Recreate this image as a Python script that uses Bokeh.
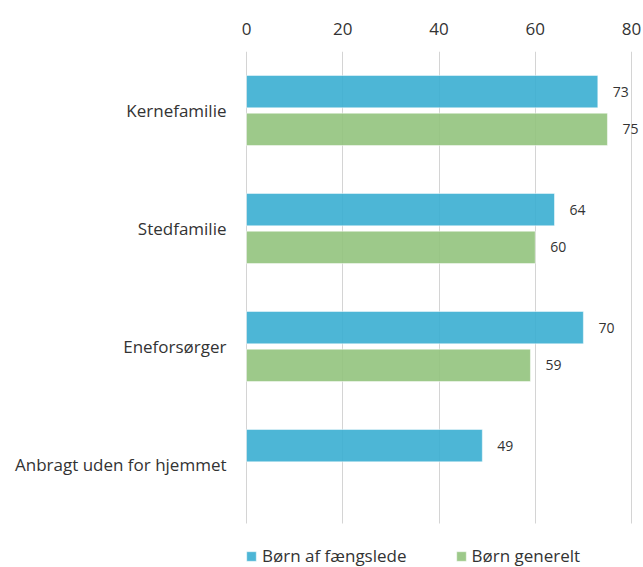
from bokeh.plotting import figure
from bokeh.models import Range1d, FixedTicker, Legend, LegendItem, ColumnDataSource
from bokeh.transform import dodge
from bokeh.core.properties import value
from bokeh.embed import file_html
from bokeh.resources import INLINE

categories = ["Kernefamilie", "Stedfamilie", "Eneforsørger", "Anbragt uden for hjemmet"]
series_names = ["Børn af fængslede", "Børn generelt"]
faengslede = [73, 64, 70, 49]
generelt = [75, 60, 59, None]
x_ticks = [0, 20, 40, 60, 80]

BLUE = "#3aaed1"
GREEN = "#92c37d"
FONT = "Open Sans"
TXT = "#333333"

n = len(categories)
cat_pos = [n - 0.5 - i for i in range(n)]   # top to bottom


def make_source(vals):
    pos = [y for y, v in zip(cat_pos, vals) if v is not None]
    vs = [v for v in vals if v is not None]
    return ColumnDataSource(dict(pos=pos, val=vs, label=[str(v) for v in vs]))


src_a = make_source(faengslede)
src_b = make_source(generelt)

# extra room under the categories for the legend (44px of 118px per category)
extra = 44 / 118.0

p = figure(width=643, height=567,
           y_range=Range1d(-extra, n),
           x_range=Range1d(-0.208, 82.49),
           x_axis_location="above",
           output_backend="svg", toolbar_location=None,
           min_border_left=245, min_border_right=0,
           min_border_top=51, min_border_bottom=0)

p.outline_line_color = None
p.background_fill_color = "white"
p.border_fill_color = "white"

# grid
p.ygrid.grid_line_color = None
p.xgrid.ticker = FixedTicker(ticks=x_ticks)
p.xgrid.grid_line_color = "#d4d4d4"
p.xgrid.grid_line_width = 1
p.xgrid.cross_bounds = (0, n)

# x axis (top)
xa = p.xaxis[0]
xa.ticker = FixedTicker(ticks=x_ticks)
xa.axis_line_color = None
xa.major_tick_line_color = None
xa.minor_tick_line_color = None
xa.major_tick_out = 0
xa.major_label_standoff = 17
xa.major_label_text_font = FONT
xa.major_label_text_font_size = "17px"
xa.major_label_text_color = TXT

# y axis
ya = p.yaxis[0]
ya.ticker = FixedTicker(ticks=cat_pos)
ya.major_label_overrides = {y: c for y, c in zip(cat_pos, categories)}
ya.axis_line_color = None
ya.major_tick_line_color = None
ya.minor_tick_line_color = None
ya.major_tick_out = 0
ya.major_label_standoff = 19
ya.major_label_text_font = FONT
ya.major_label_text_font_size = "17px"
ya.major_label_text_color = TXT

OFF = 0.16
H = 0.275

r_a = p.hbar(y=dodge("pos", OFF), left=0, right="val", height=H,
             source=src_a, fill_color=BLUE, fill_alpha=0.9, line_color="white",
             line_alpha=0.5, line_width=1)
r_b = p.hbar(y=dodge("pos", -OFF), left=0, right="val", height=H,
             source=src_b, fill_color=GREEN, fill_alpha=0.9, line_color="white",
             line_alpha=0.5, line_width=1)

for src, off in ((src_a, OFF), (src_b, -OFF)):
    p.text(x="val", y=dodge("pos", off), text="label", source=src,
           x_offset=15, text_baseline="middle", text_align="left",
           text_font=value(FONT), text_font_size="14px", text_color=TXT)

legend = Legend(items=[LegendItem(label=series_names[0], renderers=[r_a]),
                       LegendItem(label=series_names[1], renderers=[r_b])],
                orientation="horizontal", location=(0, 0),
                glyph_width=12, glyph_height=12, label_standoff=5, spacing=48,
                padding=0, margin=0, border_line_color=None, background_fill_alpha=0,
                label_text_font=FONT, label_text_font_size="17px",
                label_text_color=TXT, label_height=16)
p.add_layout(legend)

open("out.html", "w").write(file_html(p, INLINE))
